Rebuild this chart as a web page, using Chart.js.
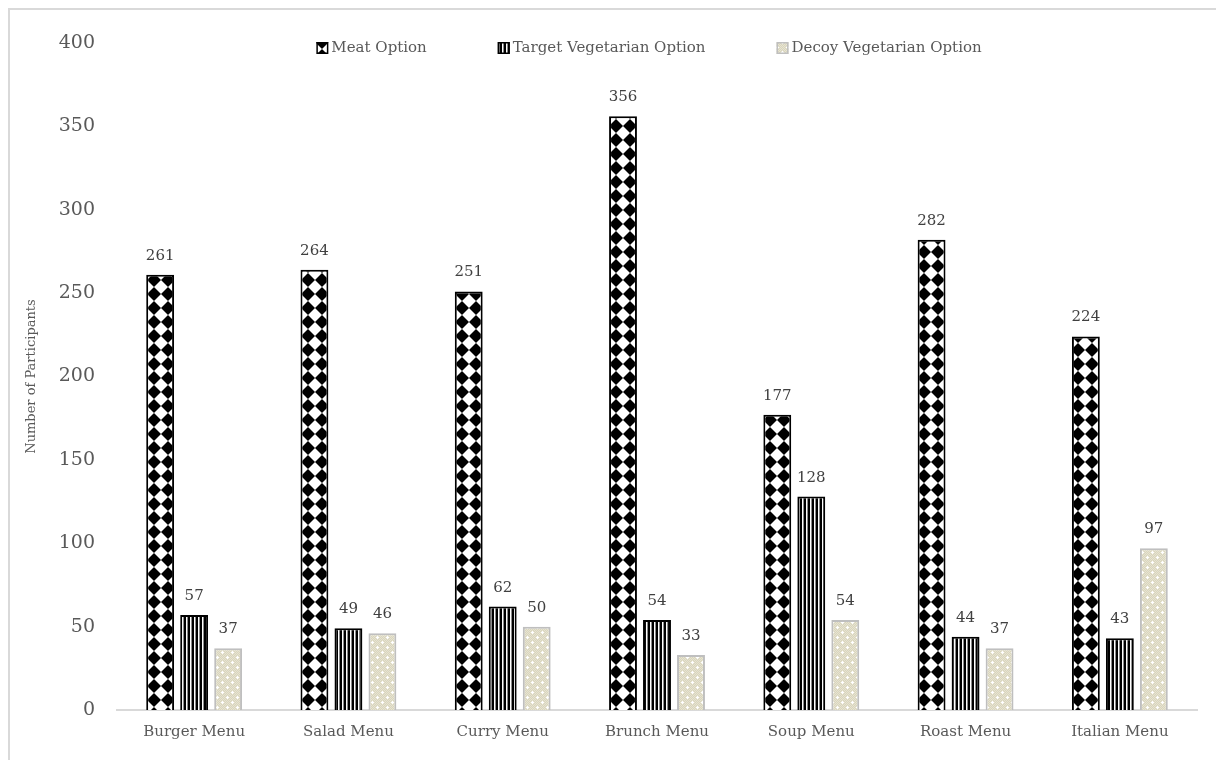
<!DOCTYPE html>
<html><head><meta charset="utf-8">
<script src="https://cdn.jsdelivr.net/npm/chart.js@4.4.0/dist/chart.umd.min.js"></script>
<style>
html,body{margin:0;padding:0;background:#fff;overflow:hidden;width:1216px;height:760px;}
#wrap{position:absolute;left:0;top:0;width:1216px;height:760px;}
#frame{position:absolute;left:8px;top:8px;width:1400px;height:900px;border:2px solid #d9d9d9;pointer-events:none;}
</style></head><body>
<div id="wrap"><canvas id="c" width="1216" height="760"></canvas></div>
<div id="frame"></div>
<script>
const categories = ['Burger Menu','Salad Menu','Curry Menu','Brunch Menu','Soup Menu','Roast Menu','Italian Menu'];
const meatOption = [261, 264, 251, 356, 177, 282, 224];
const targetVegetarian = [57, 49, 62, 54, 128, 44, 43];
const decoyVegetarian = [37, 46, 50, 33, 54, 37, 97];
const seriesNames = ['Meat Option', 'Target Vegetarian Option', 'Decoy Vegetarian Option'];
const yAxisTitle = 'Number of Participants';
const yMin = 0, yMax = 400, yStep = 50;

const SERIF = '"DejaVu Serif", "Liberation Serif", serif';

function makePattern(w, h, draw) {
  const cv = document.createElement('canvas');
  cv.width = w; cv.height = h;
  const g = cv.getContext('2d');
  draw(g, w, h);
  return g.createPattern(cv, 'repeat');
}
const ctxMain = document.getElementById('c').getContext('2d');

// diamond checker
const meatPattern = makePattern(14, 14, (g, w, h) => {
  g.fillStyle = '#fff'; g.fillRect(0, 0, w, h);
  g.fillStyle = '#000';
  const d = 7;
  [[0,0],[14,0],[0,14],[14,14]].forEach(([cx, cy]) => {
    g.beginPath();
    g.moveTo(cx, cy - d); g.lineTo(cx + d, cy); g.lineTo(cx, cy + d); g.lineTo(cx - d, cy);
    g.closePath(); g.fill();
  });
});
// vertical stripes
const stripePattern = makePattern(4, 4, (g, w, h) => {
  g.fillStyle = '#000'; g.fillRect(0, 0, 2, h);
  g.fillStyle = '#fff'; g.fillRect(2, 0, 1, h);
  g.fillStyle = '#8c8c8c'; g.fillRect(3, 0, 1, h);
});
// beige dotted texture
const decoyPattern = makePattern(10, 10, (g, w, h) => {
  g.fillStyle = '#d9d5bc'; g.fillRect(0, 0, w, h);
  g.fillStyle = '#e6e3d2';
  for (let y = 0; y < h; y++) for (let x = 0; x < w; x++) if ((x + y) % 2 === 0) g.fillRect(x, y, 1, 1);
  g.fillStyle = '#ffffff';
  g.fillRect(2, 1, 1, 3); g.fillRect(1, 2, 3, 1);
  g.fillRect(7, 6, 1, 3); g.fillRect(6, 7, 3, 1);
});

const fills = [meatPattern, stripePattern, decoyPattern];
const borders = ['#000000', '#000000', '#bfbfbf'];
const seriesData = [meatOption, targetVegetarian, decoyVegetarian];

const valueLabels = {
  id: 'valueLabels',
  afterDatasetsDraw(chart) {
    const ctx = chart.ctx;
    ctx.save();
    ctx.font = '15px ' + SERIF;
    ctx.fillStyle = '#404040';
    ctx.textAlign = 'center';
    ctx.textBaseline = 'alphabetic';
    chart.data.datasets.forEach((ds, i) => {
      const meta = chart.getDatasetMeta(i);
      meta.data.forEach((bar, j) => {
        ctx.fillText(String(ds.data[j]), bar.x, bar.y - 15);
      });
    });
    ctx.restore();
  }
};

const customLegend = {
  id: 'customLegend',
  afterDraw(chart) {
    const ctx = chart.ctx;
    const a = chart.chartArea;
    ctx.save();
    ctx.font = '15px ' + SERIF;
    const box = 12, gapText = 3, gapItem = 71;
    const items = chart.data.datasets.map(ds => ({
      label: ds.label, fill: ds.backgroundColor, border: ds.borderColor,
      w: box + gapText + ctx.measureText(ds.label).width
    }));
    const total = items.reduce((s, it) => s + it.w, 0) + gapItem * (items.length - 1);
    let x = (a.left + a.right) / 2 - 8 - total / 2;
    const cy = 48;
    items.forEach(it => {
      ctx.fillStyle = it.fill;
      ctx.fillRect(x, cy - box / 2, box, box);
      ctx.lineWidth = 1.5;
      ctx.strokeStyle = it.border;
      ctx.strokeRect(x + 0.75, cy - box / 2 + 0.75, box - 1.5, box - 1.5);
      ctx.fillStyle = '#595959';
      ctx.textAlign = 'left';
      ctx.textBaseline = 'middle';
      ctx.fillText(it.label, x + box + gapText, cy);
      x += it.w + gapItem;
    });
    ctx.restore();
  }
};

new Chart(ctxMain, {
  type: 'bar',
  data: {
    labels: categories,
    datasets: seriesData.map((d, i) => ({
      label: seriesNames[i],
      data: d,
      backgroundColor: fills[i],
      borderColor: borders[i],
      borderWidth: 2,
      categoryPercentage: 0.661,
      barPercentage: 0.82
    }))
  },
  options: {
    responsive: false,
    animation: false,
    devicePixelRatio: 1,
    layout: { padding: { left: 20, top: 43, right: 19, bottom: 0 } },
    plugins: { legend: { display: false }, tooltip: { enabled: false } },
    scales: {
      x: {
        grid: { display: false, drawTicks: false },
        border: { display: true, color: '#d9d9d9', width: 2 },
        ticks: { color: '#595959', font: { family: SERIF, size: 15 }, padding: 13, maxRotation: 0 },
        afterFit(s) { s.height = 50; }
      },
      y: {
        min: yMin, max: yMax,
        grid: { display: false, drawTicks: false },
        border: { display: false },
        ticks: { stepSize: yStep, color: '#595959', font: { family: SERIF, size: 19 }, padding: 22 },
        title: { display: true, text: yAxisTitle, color: '#595959', font: { family: SERIF, size: 13 }, padding: { top: 4, bottom: 0 } },
        afterFit(s) { s.width = 97; }
      }
    }
  },
  plugins: [valueLabels, customLegend]
});
</script>
</body></html>
